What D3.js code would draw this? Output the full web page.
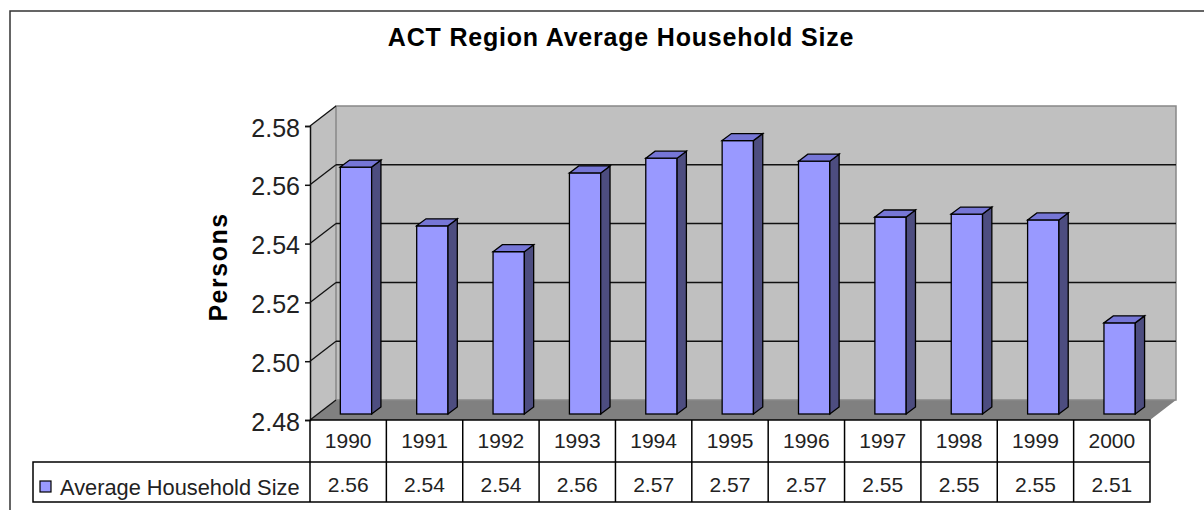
<!DOCTYPE html>
<html>
<head>
<meta charset="utf-8">
<script src="https://cdn.jsdelivr.net/npm/d3@7"></script>
<style>
  body { margin: 0; background: #fff; }
  svg { display: block; font-family: "Liberation Sans", Arial, sans-serif; }
</style>
</head>
<body>
<svg id="chart"></svg>
<script>
// data
const years = ["1990", "1991", "1992", "1993", "1994", "1995", "1996", "1997", "1998", "1999", "2000"];
const householdSize = [2.564, 2.544, 2.5352, 2.562, 2.567, 2.573, 2.566, 2.547, 2.548, 2.546, 2.511];
const yTicks = [2.48, 2.50, 2.52, 2.54, 2.56, 2.58];
const seriesName = "Average Household Size";

const W = 1204, H = 510;
const svg = d3.select("#chart").attr("width", W).attr("height", H);

// outer frame (only top + left visible)
svg.append("path")
  .attr("d", `M10,${H} L10,11 L${W},11`)
  .attr("fill", "none")
  .attr("stroke", "#333")
  .attr("stroke-width", 1.5);

// title
svg.append("text")
  .attr("x", 621).attr("y", 46)
  .attr("text-anchor", "middle")
  .style("font-size", "25px").style("font-weight", "bold")
  .style("letter-spacing", "0.8px")
  .text("ACT Region Average Household Size");

// y axis title
svg.append("text")
  .attr("transform", "translate(227,267) rotate(-90)")
  .attr("text-anchor", "middle")
  .style("font-size", "25px").style("font-weight", "bold")
  .style("letter-spacing", "1.5px")
  .text("Persons");

const x = d3.scaleBand().domain(years).range([310, 1150]);
const y = d3.scaleLinear().domain([2.48, 2.58]).range([420, 126]);

// depth of the 3d box
const DX = 26, DY = -20;
const x0 = x.range()[0], x1 = x.range()[1];
const yTop = y(2.58), yBot = y(2.48);

// floor
svg.append("path")
  .attr("d", `M${x0},${yBot} L${x0 + DX},${yBot + DY} L${x1 + DX},${yBot + DY} L${x1},${yBot} Z`)
  .attr("fill", "#808080");

// left wall
svg.append("path")
  .attr("d", `M${x0},${yTop} L${x0 + DX},${yTop + DY} L${x0 + DX},${yBot + DY} L${x0},${yBot} Z`)
  .attr("fill", "#c0c0c0");

// back wall
svg.append("rect")
  .attr("x", x0 + DX).attr("y", yTop + DY)
  .attr("width", x1 - x0).attr("height", yBot - yTop)
  .attr("fill", "#c0c0c0")
  .attr("stroke", "#888")
  .attr("stroke-width", 1.5);

// gridlines on the back wall + diagonals on left wall
const inner = yTicks.slice(1, -1);
svg.append("g").selectAll("line")
  .data(inner).enter().append("line")
  .attr("x1", x0 + DX).attr("x2", x1 + DX)
  .attr("y1", (d) => y(d) + DY).attr("y2", (d) => y(d) + DY)
  .attr("stroke", "#111").attr("stroke-width", 1.5);

svg.append("g").selectAll("line")
  .data(yTicks).enter().append("line")
  .attr("x1", x0).attr("x2", x0 + DX)
  .attr("y1", (d) => y(d)).attr("y2", (d) => y(d) + DY)
  .attr("stroke", "#111").attr("stroke-width", 1.3);

// y axis
const yAxis = svg.append("g")
  .attr("transform", `translate(${x0},0)`)
  .call(d3.axisLeft(y).tickValues(yTicks).tickFormat(d3.format(".2f")).tickSize(5).tickPadding(5));
yAxis.select(".domain").attr("stroke", "#111").attr("stroke-width", 1.5);
yAxis.selectAll(".tick line").attr("stroke", "#111").attr("stroke-width", 1.5);
yAxis.selectAll(".tick text")
  .attr("fill", "#222")
  .attr("dy", "0.4em")
  .style("font-size", "25px")
  .style("font-family", "'Liberation Sans', Arial, sans-serif");

// bars
const fOff = 0.3;            // bar front plane depth fraction
const bdx = 9.3, bdy = -7;   // bar depth
const bw = x.bandwidth() * 0.41;
const bars = svg.append("g").selectAll("g")
  .data(years.map((yr, i) => ({ yr, v: householdSize[i] })))
  .enter().append("g");

const bx = (d) => x(d.yr) + x.bandwidth() / 2 - bw / 2 + DX * fOff;
const by = (d) => y(d.v) + DY * fOff;
const bb = yBot + DY * fOff;

bars.append("rect")
  .attr("x", bx).attr("y", by)
  .attr("width", bw).attr("height", (d) => bb - by(d))
  .attr("fill", "#9999ff").attr("stroke", "#000").attr("stroke-width", 1.3);

bars.append("path")
  .attr("d", (d) => {
    const r = bx(d) + bw, t = by(d);
    return `M${r},${t} L${r + bdx},${t + bdy} L${r + bdx},${bb + bdy} L${r},${bb} Z`;
  })
  .attr("fill", "#4d4d80").attr("stroke", "#000").attr("stroke-width", 1.3);

bars.append("path")
  .attr("d", (d) => {
    const l = bx(d), r = l + bw, t = by(d);
    return `M${l},${t} L${l + bdx},${t + bdy} L${r + bdx},${t + bdy} L${r},${t} Z`;
  })
  .attr("fill", "#7676d6").attr("stroke", "#000").attr("stroke-width", 1.3);

// data table
const rowTop = yBot, rowMid = 462, rowBot = 502, legL = 33;
const tbl = svg.append("g")
  .attr("fill", "none").attr("stroke", "#000").attr("stroke-width", 1.5);
tbl.append("path")
  .attr("d", `M${x0},${rowTop} L${x1},${rowTop} L${x1},${rowBot} L${legL},${rowBot} L${legL},${rowMid} L${x1},${rowMid}`);
tbl.selectAll("line")
  .data(years).enter().append("line")
  .attr("x1", (d) => x(d)).attr("x2", (d) => x(d))
  .attr("y1", rowTop).attr("y2", rowBot);

svg.append("g").selectAll("text")
  .data(years).enter().append("text")
  .attr("x", (d) => x(d) + x.bandwidth() / 2)
  .attr("y", 448)
  .attr("text-anchor", "middle")
  .attr("fill", "#222")
  .style("font-size", "21px")
  .text((d) => d);

svg.append("g").selectAll("text")
  .data(householdSize).enter().append("text")
  .attr("x", (d, i) => x(years[i]) + x.bandwidth() / 2)
  .attr("y", 492)
  .attr("text-anchor", "middle")
  .attr("fill", "#222")
  .style("font-size", "21px")
  .text((d) => d3.format(".2f")(d));

// legend key
svg.append("rect")
  .attr("x", 40).attr("y", 481).attr("width", 11).attr("height", 11)
  .attr("fill", "#9999ff").attr("stroke", "#000").attr("stroke-width", 1.2);
svg.append("text")
  .attr("x", 60).attr("y", 495)
  .attr("fill", "#222")
  .style("font-size", "21.8px")
  .text(seriesName);
</script>
</body>
</html>
